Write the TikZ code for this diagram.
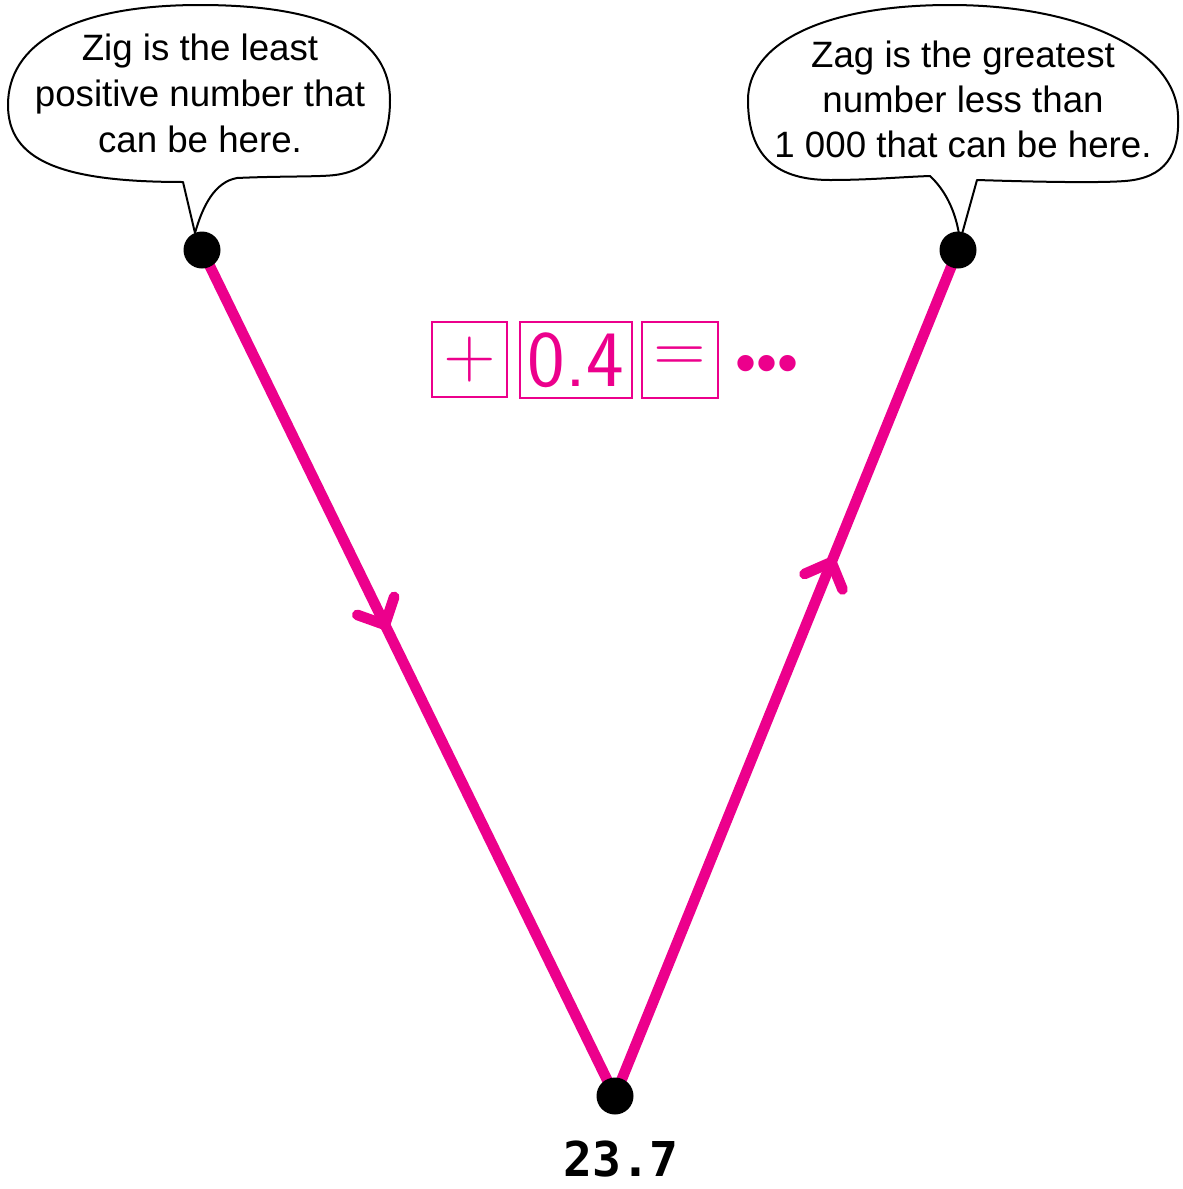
\documentclass[tikz,border=0pt]{standalone}
\usepackage{fontspec}
\setmainfont{Liberation Sans}
\newfontfamily\monofont{DejaVu Sans Mono}
\usetikzlibrary{decorations.markings}
\definecolor{zpink}{HTML}{EC008C}
\begin{document}
\begin{tikzpicture}[x=0.75pt,y=-0.75pt,
  bubble/.style={draw=black, line width=1.5pt, fill=white, line join=round},
  bubtext/.style={align=center, inner sep=0pt},
  zzline/.style={draw=zpink, line width=8pt},
  barb/.style={draw=zpink, line width=8pt, line cap=round, line join=round},
  dotnode/.style={circle, fill=black, minimum size=27.75pt, inner sep=0pt},
  opbox/.style={draw=zpink, line width=1.5pt, text=zpink, inner sep=0pt,
    minimum height=56.5pt, font=\sffamily\fontsize{60pt}{60pt}\selectfont},
  arrowmark/.style={postaction={decorate, decoration={markings,
    mark=at position #1 with {\draw[barb] (-21,20.5) -- (0,0) -- (-21,-20.5);}}}}
]
\useasboundingbox (0,0) rectangle (1182,1189);

% points
\coordinate (zigp) at (202,250);
\coordinate (zagp) at (958,250);
\coordinate (vp) at (615,1096);

% left bubble
\path[bubble] (183,182) -- (195,233)
  .. controls (203,205) and (215,182) .. (237,178)
  .. controls (280,176) and (320,177) .. (335,175)
  .. controls (375,170) and (390,140) .. (390,100)
  .. controls (390,40) and (330,5) .. (200,5)
  .. controls (70,5) and (8,45) .. (8,105)
  .. controls (8,160) and (60,182) .. (183,182) -- cycle;
\node[bubtext, font=\fontsize{27.5pt}{34.5pt}\selectfont] (zigtext) at (200,93)
  {Zig is the least\\positive number that\\can be here.};

% right bubble
\path[bubble] (930,176)
  .. controls (945,190) and (955,210) .. (959,234) -- (962,234) -- (977,180)
  .. controls (1040,182) and (1100,183) .. (1125,181)
  .. controls (1165,178) and (1180,155) .. (1178,115)
  .. controls (1175,50) and (1080,5) .. (950,5)
  .. controls (820,5) and (748,45) .. (748,100)
  .. controls (748,150) and (770,180) .. (830,180)
  .. controls (870,180) and (900,177) .. (930,176) -- cycle;
\node[bubtext, font=\fontsize{27.5pt}{33.75pt}\selectfont] (zagtext) at (963,99)
  {Zag is the greatest\\number less than\\1 000 that can be here.};

% lines
\draw[zzline, arrowmark=0.443] (zigp) -- (vp);
\draw[zzline, arrowmark=0.631] (vp) -- (zagp);

% dots
\node[dotnode] (zig) at (zigp) {};
\node[dotnode] (zag) at (zagp) {};
\node[dotnode] (v) at (vp) {};

% operation boxes
\node[opbox, minimum width=56.25pt, font=\sffamily\fontsize{54pt}{54pt}\selectfont] (plus) at (469.5,359.5) {+};
\node[opbox, minimum width=84pt] (num) at (576,360) {0.4};
\node[opbox, minimum width=57pt, font=\sffamily\fontsize{54pt}{54pt}\selectfont] (eq) at (680,360) {=};
\node[anchor=base west, inner sep=0pt, text=zpink,
  font=\fontsize{45pt}{45pt}\selectfont] (dots) at (735,383) {\textbullet\textbullet\textbullet};

% value
\node[inner sep=0pt, font=\monofont\bfseries\fontsize{36pt}{36pt}\selectfont] (val) at (621,1159) {23.7};
\end{tikzpicture}
\end{document}
